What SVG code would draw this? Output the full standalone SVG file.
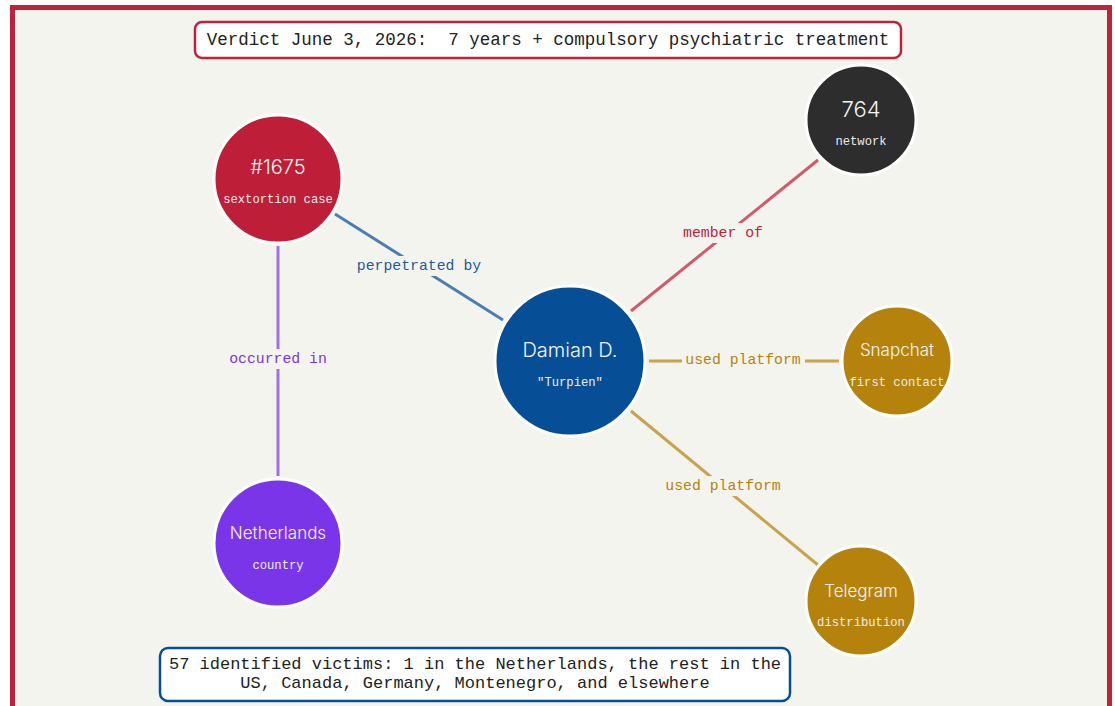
<svg xmlns="http://www.w3.org/2000/svg" width="1115" height="706" viewBox="0 0 1115 706">
<style>
.mono{font-family:"Liberation Mono","DejaVu Sans Mono",monospace;}
.sans{font-family:Inter,"Noto Sans",sans-serif;font-weight:300;}
.node circle{stroke:#ffffff;stroke-width:3;}
.title{fill:#f4f4f4;text-anchor:middle;}
.sub{fill:#ececec;text-anchor:middle;font-size:12.2px;}
.edge{stroke-width:3;fill:none;}
.elabel{font-size:14.8px;text-anchor:middle;dominant-baseline:central;}
.lbg{fill:#f4f4ef;}
.box{fill:#ffffff;stroke-width:2.5;}
.boxtext{font-size:17px;fill:#222222;text-anchor:middle;white-space:pre;}
</style>
<rect x="12.5" y="7.5" width="1097" height="710" fill="#f4f4ef" stroke="#c0223a" stroke-width="5"/>
<g id="connectors">
  <line class="edge" x1="335" y1="214" x2="503" y2="320" stroke="#4a7fb5"/>
  <rect class="lbg" x="354" y="256" width="130" height="20"/>
  <text class="mono elabel" x="419" y="266" fill="#1f5a99">perpetrated by</text>
  <line class="edge" x1="631" y1="311" x2="818" y2="160" stroke="#d15a6c"/>
  <rect class="lbg" x="680" y="223" width="86" height="20"/>
  <text class="mono elabel" x="723" y="233" fill="#c0223a">member of</text>
  <line class="edge" x1="649" y1="361" x2="839" y2="361" stroke="#c9a24a"/>
  <rect class="lbg" x="682" y="350" width="123" height="20"/>
  <text class="mono elabel" x="743" y="360" fill="#b5830b">used platform</text>
  <line class="edge" x1="631" y1="411" x2="818" y2="565" stroke="#c9a24a"/>
  <rect class="lbg" x="662" y="476" width="123" height="20"/>
  <text class="mono elabel" x="723" y="486" fill="#b5830b">used platform</text>
  <line class="edge" x1="278" y1="246" x2="278" y2="476" stroke="#a070e8"/>
  <rect class="lbg" x="226" y="349" width="104" height="20"/>
  <text class="mono elabel" x="278" y="359" fill="#7a35e8">occurred in</text>
</g>
<g id="verdict">
  <rect class="box" x="195" y="22" width="706" height="36" rx="7" stroke="#c0223a"/>
  <text class="mono boxtext" x="548" y="45" style="font-size:17.5px">Verdict June 3, 2026:  7 years + compulsory psychiatric treatment</text>
</g>
<g id="victims">
  <rect class="box" x="160" y="648" width="630" height="53" rx="8" stroke="#064f96"/>
  <text class="mono boxtext" x="475" y="669">57 identified victims: 1 in the Netherlands, the rest in the</text>
  <text class="mono boxtext" x="475" y="688">US, Canada, Germany, Montenegro, and elsewhere</text>
</g>
<g id="node-1675" class="node">
  <circle cx="278" cy="179" r="64" fill="#be1e37"/>
  <text class="sans title" x="278" y="174" font-size="20">#1675</text>
  <text class="mono sub" x="278" y="203">sextortion case</text>
</g>
<g id="node-764" class="node">
  <circle cx="861" cy="120" r="55" fill="#2d2d2d"/>
  <text class="sans title" x="861" y="117" font-size="22">764</text>
  <text class="mono sub" x="861" y="145">network</text>
</g>
<g id="node-damian" class="node">
  <circle cx="570" cy="361" r="75" fill="#064f96"/>
  <text class="sans title" x="570" y="357" font-size="20">Damian D.</text>
  <text class="mono sub" x="570" y="386">"Turpien"</text>
</g>
<g id="node-snapchat" class="node">
  <circle cx="897" cy="361" r="55" fill="#b5830b"/>
  <text class="sans title" x="897" y="356" font-size="17">Snapchat</text>
  <text class="mono sub" x="897" y="386">first contact</text>
</g>
<g id="node-telegram" class="node">
  <circle cx="861" cy="601" r="55" fill="#b5830b"/>
  <text class="sans title" x="861" y="597" font-size="17">Telegram</text>
  <text class="mono sub" x="861" y="626">distribution</text>
</g>
<g id="node-netherlands" class="node">
  <circle cx="278" cy="543" r="64" fill="#7a35e8"/>
  <text class="sans title" x="278" y="539" font-size="17">Netherlands</text>
  <text class="mono sub" x="278" y="569">country</text>
</g>
</svg>
